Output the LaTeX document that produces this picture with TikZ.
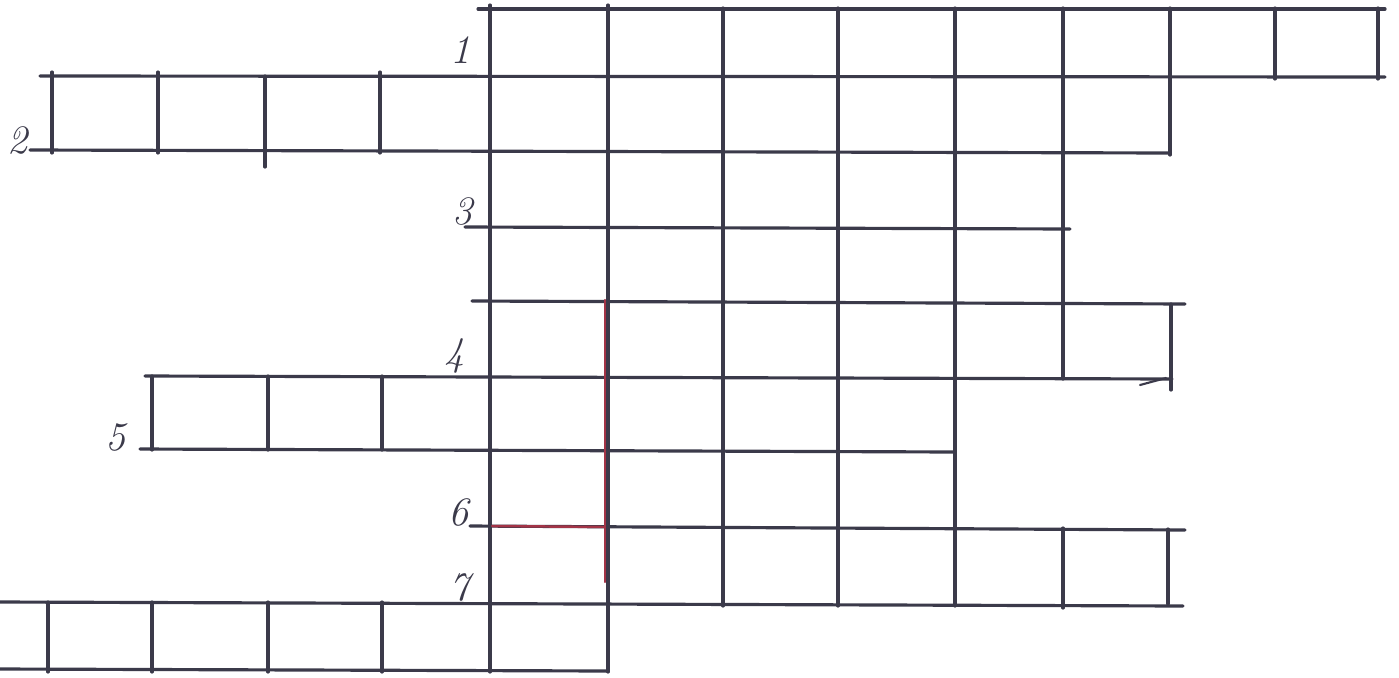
\documentclass[tikz,border=0pt]{standalone}
\usepackage{tikz}
\usetikzlibrary{positioning}
\definecolor{pencil}{HTML}{3B3A4A}
\definecolor{redpencil}{HTML}{A33447}

\begin{document}
\begin{tikzpicture}[x=0.02cm, y=-0.02cm,
  grid/.style={draw=pencil, line width=1.8pt, line cap=round},
  redline/.style={draw=redpencil, line width=1.4pt, line cap=round},
  num/.style={font=\fontsize{23}{25}\selectfont\itshape, text=pencil, inner sep=0pt}]
  \useasboundingbox (0,0) rectangle (1399,677);

  %--- horizontal lines, top to bottom ---
  \draw[grid] (478,9)   -- (1385,9);
  \draw[grid] (40,76)   -- (1385,77);
  \draw[grid] (30,150)  -- (1170,153);
  \draw[grid] (465,227) -- (1070,229);
  \draw[grid] (472,301) -- (1185,304);
  \draw[grid] (145,376) -- (1172,379);
  \draw[grid] (140,449) -- (955,452);
  \draw[grid] (470,526) -- (1185,530);
  \draw[grid] (0,602)   -- (1183,606);
  \draw[grid] (0,669)   -- (608,671);
  % small tick at the end of row 4
  \draw[grid, line width=1.2pt] (1140,385) -- (1166,378);

  %--- vertical lines of the main block ---
  \foreach \x in {490,608}
    \draw[grid] (\x,5) -- (\x,672);
  \foreach \x in {723,838,955}
    \draw[grid] (\x,8) -- (\x,606);
  \draw[grid] (1063,8)   -- (1063,379);
  \draw[grid] (1063,528) -- (1063,608);
  \draw[grid] (1170,8)   -- (1170,155);
  \draw[grid] (1171,304) -- (1171,390);
  \draw[grid] (1168,529) -- (1168,604);
  \foreach \x in {1275,1378}
    \draw[grid] (\x,8) -- (\x,79);

  %--- left extensions ---
  % row 2
  \foreach \x in {52,158,380}
    \draw[grid] (\x,72) -- (\x,153);
  \draw[grid] (265,76) -- (265,167);
  % row 5
  \foreach \x in {152,268,382}
    \draw[grid] (\x,376) -- (\x,450);
  % row 7
  \foreach \x in {48,152,268,382}
    \draw[grid] (\x,602) -- (\x,672);

  %--- red marks ---
  \draw[redline] (605,300) -- (605,582);
  \draw[redline] (492,526) -- (605,527);

  %--- clue numbers ---
  \node[num] (n1) at (461,50)  {1};
  \node[num] (n2) at (18,140)  {2};
  \node[num] (n3) at (463,211) {3};
  \node[num] (n4) at (455,356) {4};
  \node[num] (n5) at (116,437) {5};
  \node[num] (n6) at (459,512) {6};
  \node[num] (n7) at (460,587) {7};
\end{tikzpicture}
\end{document}
